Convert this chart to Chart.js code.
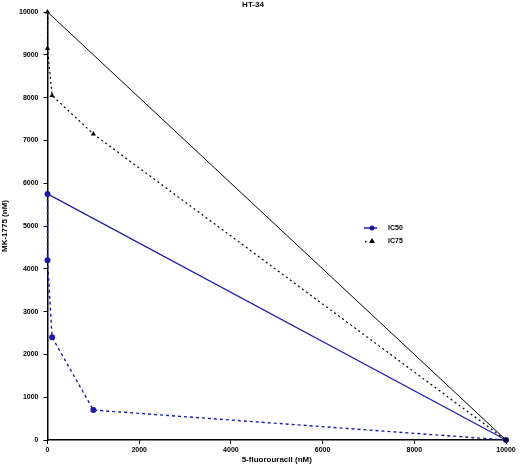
<!DOCTYPE html>
<html>
<head>
<meta charset="utf-8">
<script src="https://cdn.jsdelivr.net/npm/chart.js@4.4.1/dist/chart.umd.min.js"></script>
<style>
  html, body { margin: 0; padding: 0; background: #fff; }
  #wrap { width: 520px; height: 468px; }
</style>
</head>
<body>
<div id="wrap"><canvas id="chart" width="520" height="468"></canvas></div>
<script>
// isobologram values (nM)
const ic50X = [0, 0, 100, 1000, 10000];
const ic50Y = [5750, 4200, 2400, 700, 0];
const ic75X = [0, 0, 100, 1000, 10000];
const ic75Y = [10000, 9150, 8050, 7150, 0];
// additivity lines
const add50X = [0, 10000];
const add50Y = [5750, 0];
const add75X = [0, 10000];
const add75Y = [10000, 0];

const xTicks = [0, 2000, 4000, 6000, 8000, 10000];
const yTicks = [0, 1000, 2000, 3000, 4000, 5000, 6000, 7000, 8000, 9000, 10000];

const BLUE = '#1c1ca8';
const FONT = '"Liberation Sans", Arial, sans-serif';
const toPts = (xs, ys) => xs.map((x, i) => ({ x: x, y: ys[i] }));

const legendPlugin = {
  id: 'isoLegend',
  afterDraw(chart) {
    const ctx = chart.ctx;
    ctx.save();
    ctx.font = 'bold 7px ' + FONT;
    ctx.textBaseline = 'middle';
    // IC50
    ctx.strokeStyle = BLUE;
    ctx.lineWidth = 1.5;
    ctx.beginPath(); ctx.moveTo(364, 228); ctx.lineTo(377, 228); ctx.stroke();
    ctx.fillStyle = BLUE;
    ctx.beginPath(); ctx.arc(372, 228, 2.5, 0, Math.PI * 2); ctx.fill();
    ctx.fillStyle = '#000';
    ctx.fillText('IC50', 388, 228);
    // IC75
    ctx.beginPath();
    ctx.moveTo(372, 238); ctx.lineTo(375, 243); ctx.lineTo(369, 243); ctx.closePath();
    ctx.fill();
    ctx.fillRect(365, 241, 1.5, 1.5);
    ctx.fillText('IC75', 388, 241);
    ctx.restore();
  }
};

const ctx = document.getElementById('chart').getContext('2d');
new Chart(ctx, {
  type: 'scatter',
  data: {
    datasets: [
      {
        label: 'add75',
        data: toPts(add75X, add75Y),
        showLine: true,
        borderColor: '#000',
        borderWidth: 1,
        pointRadius: 0,
        clip: false
      },
      {
        label: 'add50',
        data: toPts(add50X, add50Y),
        showLine: true,
        borderColor: BLUE,
        borderWidth: 1.2,
        pointRadius: 0,
        clip: false
      },
      {
        label: 'IC75',
        data: toPts(ic75X, ic75Y),
        showLine: true,
        borderColor: '#000',
        borderWidth: 1.2,
        borderDash: [2, 3],
        pointStyle: 'triangle',
        pointRadius: 3,
        pointBackgroundColor: '#000',
        pointBorderColor: '#000',
        pointBorderWidth: 0,
        clip: false
      },
      {
        label: 'IC50',
        data: toPts(ic50X, ic50Y),
        showLine: true,
        borderColor: BLUE,
        borderWidth: 1.4,
        borderDash: [3, 3],
        pointStyle: 'circle',
        pointRadius: 3,
        pointBackgroundColor: BLUE,
        pointBorderColor: BLUE,
        pointBorderWidth: 0,
        clip: false
      }
    ]
  },
  options: {
    responsive: false,
    animation: false,
    layout: { padding: { left: 0, right: 14, top: 0, bottom: 0 } },
    plugins: {
      legend: { display: false },
      tooltip: { enabled: false },
      title: {
        display: true,
        text: 'HT-34',
        color: '#000',
        font: { family: FONT, size: 8, weight: 'bold' },
        padding: { top: 0, bottom: 2.4 }
      }
    },
    scales: {
      x: {
        type: 'linear',
        min: 0,
        max: 10000,
        afterBuildTicks: (s) => { s.ticks = xTicks.map(v => ({ value: v })); },
        afterFit: (s) => { s.height = 28; },
        border: { color: '#000', width: 1.5 },
        grid: { drawOnChartArea: false, color: '#000', tickLength: 4 },
        ticks: {
          color: '#000',
          padding: 2,
          maxRotation: 0,
          callback: (v) => String(v),
          font: { family: FONT, size: 7, weight: 'bold' }
        },
        title: {
          display: true,
          text: '5-fluorouracil (nM)',
          color: '#000',
          padding: { top: 0, bottom: 3 },
          font: { family: FONT, size: 8, weight: 'bold' }
        }
      },
      y: {
        type: 'linear',
        min: 0,
        max: 10000,
        afterBuildTicks: (s) => { s.ticks = yTicks.map(v => ({ value: v })); },
        afterFit: (s) => { s.width = 47.5; },
        border: { color: '#000', width: 1.5 },
        grid: { drawOnChartArea: false, color: '#000', tickLength: 4 },
        ticks: {
          color: '#000',
          padding: 5,
          callback: (v) => String(v),
          font: { family: FONT, size: 7, weight: 'bold' }
        },
        title: {
          display: true,
          text: 'MK-1775 (nM)',
          color: '#000',
          padding: 0,
          font: { family: FONT, size: 8, weight: 'bold' }
        }
      }
    }
  },
  plugins: [legendPlugin]
});
</script>
</body>
</html>
